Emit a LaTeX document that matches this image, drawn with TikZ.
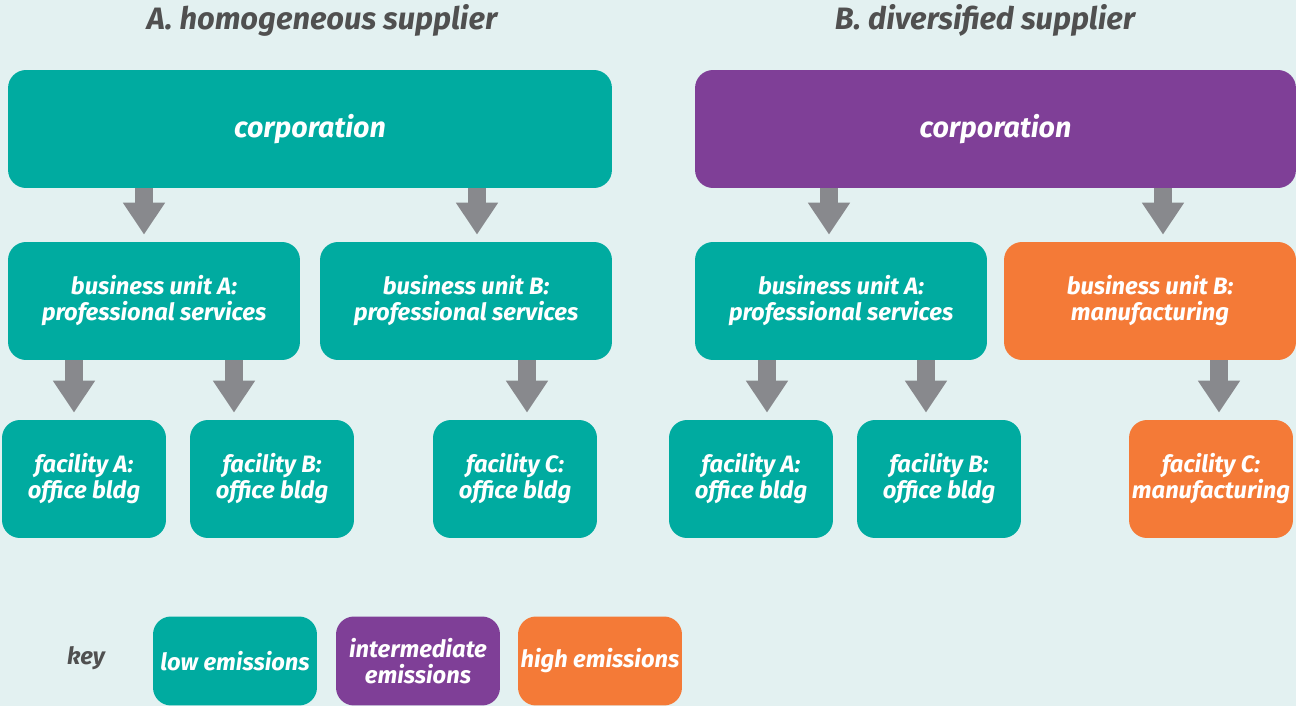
\documentclass[tikz,border=0pt]{standalone}
\usepackage{fontspec}
\setmainfont{Fira Sans}
\usetikzlibrary{arrows.meta}
\definecolor{bgcol}{HTML}{E3F1F1}
\definecolor{lowcol}{HTML}{00ABA0}
\definecolor{midcol}{HTML}{7F3F97}
\definecolor{highcol}{HTML}{F47A37}
\definecolor{arrowgrey}{HTML}{88898D}
\definecolor{titlegrey}{HTML}{505050}
\tikzset{
  unit/.style={rounded corners=0.36cm, text=white, align=center, inner sep=0pt,
    minimum height=2.36cm, font=\bfseries\itshape\fontsize{13.5}{14.8}\selectfont},
  low/.style={unit, fill=lowcol},
  mid/.style={unit, fill=midcol},
  high/.style={unit, fill=highcol},
  corp/.style={minimum width=12.08cm, font=\bfseries\itshape\fontsize{16.3}{19}\selectfont},
  bunit/.style={minimum width=5.84cm},
  fac/.style={minimum width=3.28cm},
  keybox/.style={minimum width=3.28cm, minimum height=1.78cm},
  flow/.style={arrowgrey, line width=0.36cm,
    -{Triangle[width=0.8cm,length=0.64cm]}, shorten >=0.14cm},
  heading/.style={text=titlegrey, font=\bfseries\itshape\fontsize{17.6}{21}\selectfont}
}
\begin{document}
\begin{tikzpicture}[x=0.02cm,y=-0.02cm]
  \fill[bgcol] (0,0) rectangle (1296,706);
  \useasboundingbox (0,0) rectangle (1296,706);
  % headings
  \node[heading] (titleA) at (322,20) {A. homogeneous supplier};
  \node[heading] (titleB) at (985,20) {B. diversified supplier};
  % supplier A
  \node[low, corp] (corpA) at (310,129) {corporation};
  \node[low, bunit] (buAA) at (154,301) {business unit A:\\professional services};
  \node[low, bunit] (buAB) at (466,301) {business unit B:\\professional services};
  \node[low, fac] (facAA) at (84,479) {facility A:\\office bldg};
  \node[low, fac] (facAB) at (272,479) {facility B:\\office bldg};
  \node[low, fac] (facAC) at (515,479) {facility C:\\office bldg};
  % supplier B
  \node[mid, corp, minimum width=12.02cm] (corpB) at (995.5,129) {corporation};
  \node[low, bunit] (buBA) at (841,301) {business unit A:\\professional services};
  \node[high, bunit] (buBB) at (1150,301) {business unit B:\\manufacturing};
  \node[low, fac] (facBA) at (751,479) {facility A:\\office bldg};
  \node[low, fac] (facBB) at (939,479) {facility B:\\office bldg};
  \node[high, fac] (facBC) at (1211,479) {facility C:\\manufacturing};
  % arrows
  \draw[flow] (corpA.south -| 144,0) -- (buAA.north -| 144,0);
  \draw[flow] (corpA.south -| 477,0) -- (buAB.north -| 477,0);
  \draw[flow] (buAA.south -| 74,0) -- (facAA.north -| 74,0);
  \draw[flow] (buAA.south -| 234,0) -- (facAB.north -| 234,0);
  \draw[flow] (buAB.south -| 527,0) -- (facAC.north -| 527,0);
  \draw[flow] (corpB.south -| 829,0) -- (buBA.north -| 829,0);
  \draw[flow] (corpB.south -| 1163,0) -- (buBB.north -| 1163,0);
  \draw[flow] (buBA.south -| 767,0) -- (facBA.north -| 767,0);
  \draw[flow] (buBA.south -| 926,0) -- (facBB.north -| 926,0);
  \draw[flow] (buBB.south -| 1219,0) -- (facBC.north -| 1219,0);
  % key
  \node[text=titlegrey, font=\bfseries\itshape\fontsize{13.5}{14.8}\selectfont] (key) at (86,658) {key};
  \node[low, keybox] (keylow) at (235,661) {low emissions};
  \node[mid, keybox] (keymid) at (418,661) {intermediate\\emissions};
  \node[high, keybox] (keyhigh) at (600,661) {high emissions};
\end{tikzpicture}
\end{document}
